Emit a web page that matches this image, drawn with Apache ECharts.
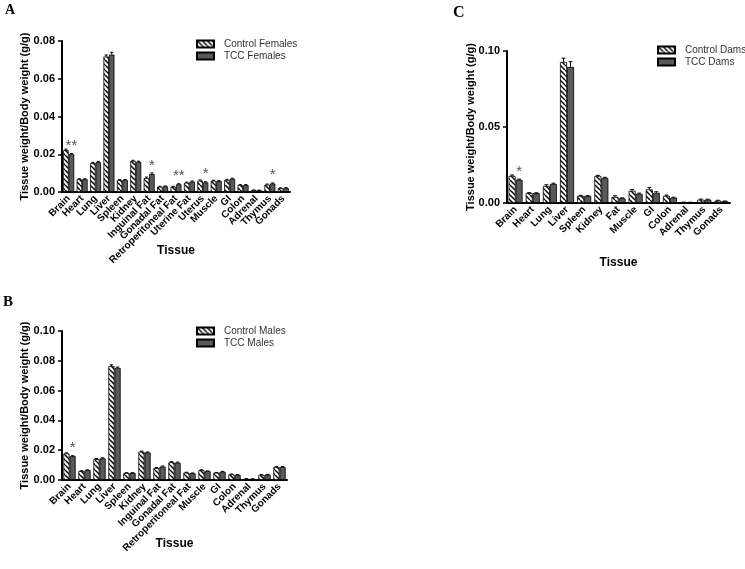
<!DOCTYPE html>
<html>
<head>
<meta charset="utf-8">
<script src="https://cdn.jsdelivr.net/npm/echarts@6/dist/echarts.min.js"></script>
<style>html,body{margin:0;padding:0;background:#fff;}#c{width:745px;height:569px;}</style>
</head>
<body>
<div id="c"></div>
<script>
// ---- Panel A (Females) ----
const catsA = ['Brain','Heart','Lung','Liver','Spleen','Kidney','Inguinal Fat','Gonadal Fat','Retroperitoneal Fat','Uterine Fat','Uterus','Muscle','GI','Colon','Adrenal','Thymus','Gonads'];
const ctrlA = [0.0222,0.0068,0.0153,0.0718,0.0063,0.0165,0.0074,0.0028,0.0028,0.0049,0.0060,0.0060,0.0064,0.0037,0.0010,0.0039,0.0020];
const tccA  = [0.0200,0.0068,0.0158,0.0728,0.0064,0.0160,0.0095,0.0030,0.0041,0.0055,0.0051,0.0058,0.0070,0.0037,0.0009,0.0045,0.0021];
const ctrlErrA = [0.0005,0.0002,0.0004,0.0008,0.0002,0.0003,0.0005,0.0002,0.0002,0.0003,0.0004,0.0002,0.0003,0.0002,0.0001,0.0003,0.0002];
const tccErrA  = [0.0004,0.0002,0.0004,0.0012,0.0002,0.0003,0.0006,0.0002,0.0003,0.0003,0.0003,0.0002,0.0003,0.0002,0.0001,0.0003,0.0002];
const sigA = ['**','','','','','','*','','**','','*','','','','','*',''];
const yTicksA = {min:0, max:0.08, interval:0.02};

// ---- Panel B (Males) ----
const catsB = ['Brain','Heart','Lung','Liver','Spleen','Kidney','Inguinal Fat','Gonadal Fat','Retroperitoneal Fat','Muscle','GI','Colon','Adrenal','Thymus','Gonads'];
const ctrlB = [0.0178,0.0060,0.0140,0.0765,0.0047,0.0190,0.0080,0.0119,0.0049,0.0066,0.0049,0.0038,0.0008,0.0034,0.0087];
const tccB  = [0.0160,0.0066,0.0145,0.0752,0.0047,0.0185,0.0090,0.0116,0.0045,0.0059,0.0055,0.0034,0.0007,0.0036,0.0087];
const ctrlErrB = [0.0004,0.0002,0.0004,0.0008,0.0002,0.0004,0.0004,0.0004,0.0003,0.0003,0.0002,0.0002,0.0001,0.0002,0.0003];
const tccErrB  = [0.0003,0.0002,0.0004,0.0006,0.0002,0.0003,0.0004,0.0004,0.0002,0.0002,0.0003,0.0002,0.0001,0.0002,0.0003];
const sigB = ['*','','','','','','','','','','','','','',''];
const yTicksB = {min:0, max:0.10, interval:0.02};

// ---- Panel C (Dams) ----
const catsC = ['Brain','Heart','Lung','Liver','Spleen','Kidney','Fat','Muscle','GI','Colon','Adrenal','Thymus','Gonads'];
const ctrlC = [0.0178,0.0066,0.0112,0.0928,0.0047,0.0178,0.0040,0.0081,0.0090,0.0047,0.0005,0.0022,0.0015];
const tccC  = [0.0152,0.0065,0.0125,0.0895,0.0046,0.0165,0.0031,0.0060,0.0067,0.0035,0.0004,0.0022,0.0011];
const ctrlErrC = [0.0006,0.0002,0.0008,0.0025,0.0003,0.0004,0.0008,0.0008,0.0012,0.0005,0.0001,0.0004,0.0003];
const tccErrC  = [0.0005,0.0002,0.0005,0.0035,0.0002,0.0004,0.0003,0.0005,0.0007,0.0003,0.0001,0.0003,0.0002];
const sigC = ['*','','','','','','','','','','','',''];
const yTicksC = {min:0, max:0.10, interval:0.05};

const FONT = '"Liberation Sans", Arial, sans-serif';
const CAT_GAP = 0.18;

function hatch(){
  const s = 5;
  const c = document.createElement('canvas'); c.width = s; c.height = s;
  const g = c.getContext('2d');
  g.fillStyle = '#fff'; g.fillRect(0,0,s,s);
  g.strokeStyle = '#000'; g.lineWidth = 1.4;
  for (const k of [-s,0,s]) { g.beginPath(); g.moveTo(k,0); g.lineTo(k+s,s); g.stroke(); }
  return c;
}
const hatchFill = {image: hatch(), repeat: 'repeat'};
const darkFill = '#595959';

function xAx(idx, cats, gap){
  return {type:'category', gridIndex:idx, data:cats,
    axisLine:{lineStyle:{color:'#000', width:2}},
    axisTick:{alignWithLabel:true, length:4, lineStyle:{color:'#000', width:1.5}},
    axisLabel:{rotate:45, interval:0, fontSize:10, fontWeight:'bold', color:'#000', fontFamily:FONT, margin:5},
    name:'Tissue', nameLocation:'middle', nameGap:gap, nameMoveOverlap:false,
    nameTextStyle:{fontSize:12, fontWeight:'bold', color:'#000', fontFamily:FONT}};
}
function yAx(idx, t, gap){
  return {type:'value', gridIndex:idx, min:t.min, max:t.max, interval:t.interval,
    axisLine:{show:true, lineStyle:{color:'#000', width:2}},
    axisTick:{show:true, length:4, lineStyle:{color:'#000', width:1.5}},
    splitLine:{show:false},
    axisLabel:{formatter:v=>v.toFixed(2), fontSize:11, fontWeight:'bold', color:'#000', fontFamily:FONT, margin:7},
    name:'Tissue weight/Body weight (g/g)', nameLocation:'middle', nameRotate:90, nameGap:gap, nameMoveOverlap:false,
    nameTextStyle:{fontSize:11, fontWeight:'bold', color:'#000', fontFamily:FONT}};
}
function barS(name, idx, vals, fill, sig){
  const s = {name, type:'bar', xAxisIndex:idx, yAxisIndex:idx, data:vals,
    barGap:'0%', barCategoryGap:(CAT_GAP*100)+'%',
    itemStyle:{color:fill, borderColor:'#000', borderWidth:0.8}};
  if (sig) {
    s.label = {show:true, position:'top', distance:1, formatter:p=>sig[p.dataIndex],
      fontSize:15, color:'#555', fontFamily:FONT};
  }
  return s;
}
function errS(idx, vals, errs, sign){
  return {type:'custom', xAxisIndex:idx, yAxisIndex:idx, silent:true, z:5,
    renderItem:(params, api)=>{
      const x = api.value(0), v = api.value(1), e = api.value(2);
      const bw = api.size([1,0])[0]*(1-CAT_GAP)/2;
      const p0 = api.coord([x, v]); const p1 = api.coord([x, v+e]);
      const cx = p0[0] + sign*bw/2; const cw = Math.max(3, bw*0.55);
      return {type:'group', children:[
        {type:'line', shape:{x1:cx, y1:p0[1], x2:cx, y2:p1[1]}, style:{stroke:'#000', lineWidth:1}},
        {type:'line', shape:{x1:cx-cw/2, y1:p1[1], x2:cx+cw/2, y2:p1[1]}, style:{stroke:'#000', lineWidth:1}}
      ]};
    },
    data: vals.map((v,i)=>[i, v, errs[i]])};
}
function legendAt(names, left, top){
  return {data:names, orient:'vertical', left, top, itemWidth:17, itemHeight:7, itemGap:2, padding:0,
    icon:'rect', selectedMode:false,
    textStyle:{fontSize:10, color:'#333', fontFamily:FONT, padding:[0,0,0,5]}};
}
const letter = (sz)=>({fontSize:sz, fontWeight:'bold', color:'#000', fontFamily:'"Liberation Serif", serif'});

const option = {
  animation:false,
  backgroundColor:'#fff',
  title:[
    {text:'A', left:5, top:3, padding:0, textStyle:letter(14)},
    {text:'B', left:3, top:295, padding:0, textStyle:letter(15)},
    {text:'C', left:453, top:5, padding:0, textStyle:letter(16)}
  ],
  grid:[
    {left:62, width:228, top:41, height:151},
    {left:62, width:225, top:331, height:149},
    {left:507, width:223, top:51, height:152}
  ],
  xAxis:[xAx(0,catsA,53), xAx(1,catsB,58), xAx(2,catsC,54)],
  yAxis:[yAx(0,yTicksA,32), yAx(1,yTicksB,32), yAx(2,yTicksC,31)],
  legend:[
    legendAt(['Control Females','TCC Females'], 196, 39),
    legendAt(['Control Males','TCC Males'], 196, 326),
    legendAt(['Control Dams','TCC Dams'], 657, 45)
  ],
  series:[
    barS('Control Females',0,ctrlA,hatchFill), barS('TCC Females',0,tccA,darkFill,sigA),
    errS(0,ctrlA,ctrlErrA,-1), errS(0,tccA,tccErrA,1),
    barS('Control Males',1,ctrlB,hatchFill), barS('TCC Males',1,tccB,darkFill,sigB),
    errS(1,ctrlB,ctrlErrB,-1), errS(1,tccB,tccErrB,1),
    barS('Control Dams',2,ctrlC,hatchFill), barS('TCC Dams',2,tccC,darkFill,sigC),
    errS(2,ctrlC,ctrlErrC,-1), errS(2,tccC,tccErrC,1)
  ]
};
const chart = echarts.init(document.getElementById('c'), null, {renderer:'canvas'});
chart.setOption(option);
</script>
</body>
</html>
